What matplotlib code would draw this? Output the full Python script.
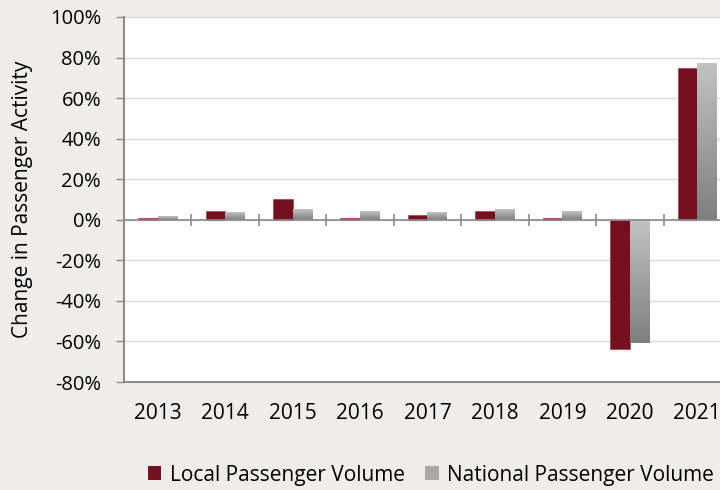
import matplotlib.pyplot as plt
import numpy as np
from matplotlib.ticker import PercentFormatter
from matplotlib.patches import Patch
from matplotlib.colors import LinearSegmentedColormap

years = ['2013', '2014', '2015', '2016', '2017', '2018', '2019', '2020', '2021']
local_vol = [1.1, 4.3, 10.2, 1.1, 2.3, 4.3, 1.1, -63.7, 74.9]
national_vol = [1.5, 3.6, 5.4, 4.4, 3.6, 5.4, 4.4, -60.9, 77.3]

plt.rcParams['font.family'] = ['Open Sans', 'DejaVu Sans']
plt.rcParams['axes.unicode_minus'] = False

fig = plt.figure(figsize=(7.2, 4.9), dpi=100, facecolor='#eeedeb')
# plot area runs past the right edge, like the original
ax = fig.add_axes([124/720, 1 - 382/490, 607/720, 365/490])
ax.set_facecolor('white')

x = np.arange(len(years))
w = 0.29
maroon = '#76101e'

ax.bar(x - w/2, local_vol, width=w, color=maroon, edgecolor='#a0404c', linewidth=0.5, zorder=3)
nat = ax.bar(x + w/2, national_vol, width=w, color='none', linewidth=0, zorder=3)

# vertical grey gradient inside each national bar
grad = np.linspace(0, 1, 256).reshape(-1, 1)
cmap = LinearSegmentedColormap.from_list('g', ['#c2c2c2', '#7e7e7e'])
for p in nat:
    x0, y0 = p.get_x(), p.get_y()
    x1, y1 = x0 + p.get_width(), y0 + p.get_height()
    ax.imshow(grad, cmap=cmap, aspect='auto', extent=(x0, x1, min(y0, y1), max(y0, y1)),
              origin='upper', zorder=3)

ax.set_xlim(-0.5, len(years) - 0.5)
ax.set_ylim(-80, 100)
ax.set_yticks(np.arange(-80, 101, 20))
ax.yaxis.set_major_formatter(PercentFormatter(decimals=0))
ax.grid(axis='y', color='#d9d9d9', linewidth=1, zorder=0)

ax.axhline(0, color='#8c8c8c', linewidth=1.2, zorder=4)
ax.vlines(np.arange(len(years) - 1) + 0.5, -3, 3, color='#8c8c8c', linewidth=1.2, zorder=4)

ax.set_xticks(x)
ax.set_xticklabels(years)
ax.tick_params(axis='x', length=0, pad=15, labelsize=15, colors='black')
ax.tick_params(axis='y', length=5.5, color='#8c8c8c', width=1, labelsize=14.5, pad=11)

for s in ['top', 'right']:
    ax.spines[s].set_visible(False)
ax.spines['left'].set_color('#8c8c8c')
ax.spines['left'].set_linewidth(1.5)
ax.spines['bottom'].set_color('#8c8c8c')
ax.spines['bottom'].set_linewidth(1.5)

ax.set_ylabel('Change in Passenger Activity', fontsize=15, labelpad=12)

handles = [Patch(facecolor=maroon, label='Local Passenger Volume'),
           Patch(facecolor='#a8a8a8', label='National Passenger Volume')]
fig.legend(handles=handles, loc='center', bbox_to_anchor=(431/720, 1 - 475/490), ncol=2,
           frameon=False, fontsize=15, handlelength=0.65, handleheight=0.65,
           handletextpad=0.4, columnspacing=1.0)

fig.savefig('out.png', dpi=100, facecolor=fig.get_facecolor())
